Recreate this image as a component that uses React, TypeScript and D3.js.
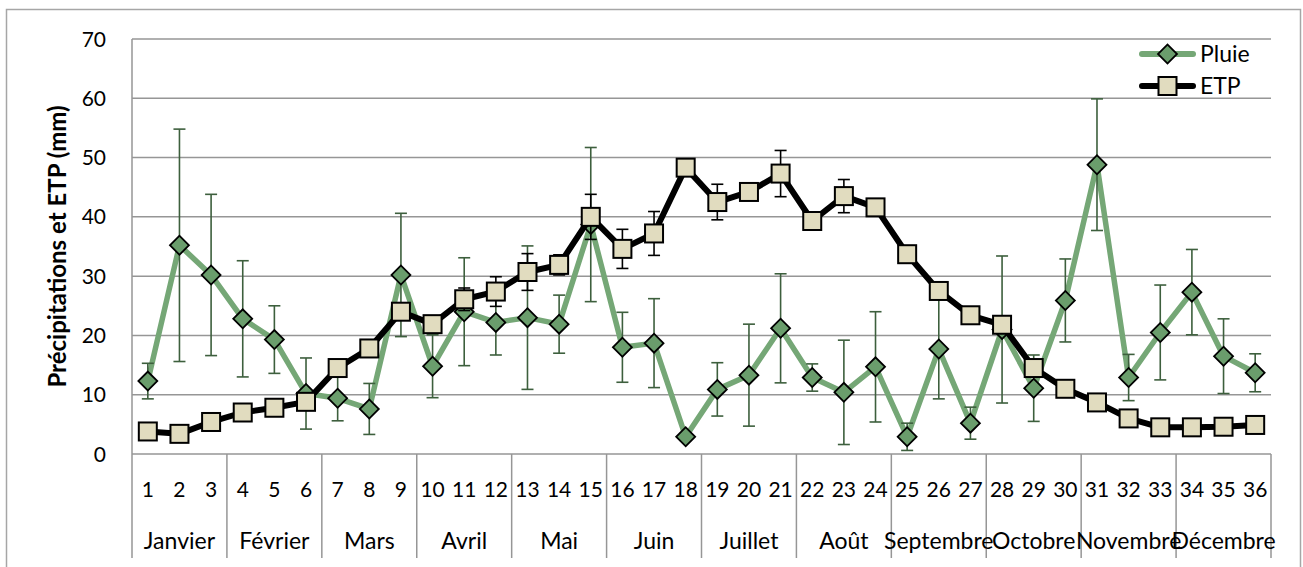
import React, { useEffect, useRef } from "react"
import * as d3 from "d3"

const WIDTH = 1303
const HEIGHT = 567
const MARGIN = { top: 39, right: 32, bottom: 113, left: 132 }

const weeks = d3.range(1, 37)
const months = [
    "Janvier",
    "Février",
    "Mars",
    "Avril",
    "Mai",
    "Juin",
    "Juillet",
    "Août",
    "Septembre",
    "Octobre",
    "Novembre",
    "Décembre",
]

const pluie = [
    12.3, 35.2, 30.2, 22.8, 19.3, 10.2, 9.4, 7.6, 30.2, 14.8, 24.0, 22.2,
    23.0, 21.9, 38.7, 18.0, 18.7, 2.9, 10.9, 13.3, 21.2, 12.9, 10.4, 14.7,
    2.9, 17.7, 5.2, 21.0, 11.1, 25.9, 48.8, 12.9, 20.5, 27.3, 16.5, 13.7,
]
const pluieErr = [
    3.0, 19.6, 13.6, 9.8, 5.7, 6.0, 3.8, 4.3, 10.4, 5.3, 9.1, 5.5,
    12.1, 4.9, 13.0, 5.9, 7.5, 0.6, 4.5, 8.6, 9.2, 2.3, 8.8, 9.3,
    2.3, 8.4, 2.7, 12.4, 5.6, 7.0, 11.1, 3.9, 8.0, 7.2, 6.3, 3.2,
]
const etp = [
    3.8, 3.4, 5.4, 7.0, 7.8, 8.8, 14.5, 17.8, 24.0, 21.9, 26.1, 27.4,
    30.7, 31.9, 40.0, 34.6, 37.2, 48.3, 42.5, 44.2, 47.3, 39.3, 43.5, 41.6,
    33.7, 27.5, 23.4, 21.8, 14.5, 11.0, 8.7, 6.0, 4.5, 4.5, 4.6, 4.9,
]
const etpErr = [
    0, 0, 0, 0, 0, 0, 0, 0, 0, 0, 1.9, 2.5,
    3.1, 1.7, 3.8, 3.3, 3.7, 0, 3.0, 0, 3.9, 0, 2.8, 0,
    0, 0, 0, 0, 0, 0, 0, 0, 0, 0, 0, 0,
]
const yTicks = [0, 10, 20, 30, 40, 50, 60, 70]

const FONT = "Lato, 'Open Sans', sans-serif"
const GRID = "#969696"
const GREEN_LINE = "#75a776"
const GREEN_MARK = "#6a9d6c"
const GREEN_ERR = "#3d5f3d"
const BEIGE = "#e1dcbf"

const diamond = (g: any, x: number, y: number) =>
    g
        .append("rect")
        .attr("x", -6.7)
        .attr("y", -6.7)
        .attr("width", 13.4)
        .attr("height", 13.4)
        .attr("transform", `translate(${x},${y}) rotate(45)`)
        .attr("fill", GREEN_MARK)
        .attr("stroke", "#000")
        .attr("stroke-width", 1.8)

const square = (g: any, x: number, y: number) =>
    g
        .append("rect")
        .attr("x", x - 9)
        .attr("y", y - 9)
        .attr("width", 18)
        .attr("height", 18)
        .attr("fill", BEIGE)
        .attr("stroke", "#000")
        .attr("stroke-width", 2)

const ChartPluieEtp: React.FC = () => {
    const svgRef = useRef<SVGSVGElement | null>(null)

    useEffect(() => {
        if (!svgRef.current) return
        const svg = d3.select(svgRef.current)
        svg.selectAll("*").remove()

        const x0 = MARGIN.left
        const x1 = WIDTH - MARGIN.right
        const y0 = HEIGHT - MARGIN.bottom

        const xScale = d3
            .scaleBand<number>()
            .domain(weeks)
            .range([x0, x1])
        const yScale = d3
            .scaleLinear()
            .domain([0, 70])
            .range([y0, MARGIN.top])
        const cx = (d: number) => xScale(d)! + xScale.bandwidth() / 2

        // cadre
        svg.append("rect")
            .attr("x", 6.5)
            .attr("y", 9.5)
            .attr("width", 1294)
            .attr("height", 620)
            .attr("fill", "#fff")
            .attr("stroke", "#a6a6a6")
            .attr("stroke-width", 1.5)

        // grille
        svg.append("g")
            .selectAll("line")
            .data(yTicks)
            .enter()
            .append("line")
            .attr("x1", x0)
            .attr("x2", x1)
            .attr("y1", d => yScale(d))
            .attr("y2", d => yScale(d))
            .attr("stroke", GRID)
            .attr("stroke-width", 1.5)

        svg.append("line")
            .attr("x1", x0)
            .attr("x2", x0)
            .attr("y1", MARGIN.top)
            .attr("y2", y0)
            .attr("stroke", GRID)
            .attr("stroke-width", 1.5)

        // axe vertical : étiquettes
        svg.append("g")
            .selectAll("text")
            .data(yTicks)
            .enter()
            .append("text")
            .attr("x", 106)
            .attr("y", d => yScale(d) + 7.5)
            .attr("text-anchor", "end")
            .style("font-family", FONT)
            .style("font-size", "21px")
            .attr("fill", "#000")
            .text(d => d)

        svg.append("text")
            .attr("transform", `translate(66, ${(MARGIN.top + y0) / 2}) rotate(-90)`)
            .attr("text-anchor", "middle")
            .style("font-family", FONT)
            .style("font-size", "24px")
            .style("font-weight", "bold")
            .text("Précipitations et ETP (mm)")

        // axe horizontal à deux niveaux
        const sepBottom = 558
        svg.append("g")
            .selectAll("line")
            .data(d3.range(0, 13))
            .enter()
            .append("line")
            .attr("x1", k => x0 + k * 3 * xScale.bandwidth())
            .attr("x2", k => x0 + k * 3 * xScale.bandwidth())
            .attr("y1", y0)
            .attr("y2", sepBottom)
            .attr("stroke", GRID)
            .attr("stroke-width", 1.5)

        svg.append("g")
            .selectAll("text")
            .data(weeks)
            .enter()
            .append("text")
            .attr("x", d => cx(d))
            .attr("y", 497)
            .attr("text-anchor", "middle")
            .style("font-family", FONT)
            .style("font-size", "21px")
            .text(d => d)

        svg.append("g")
            .selectAll("text")
            .data(months)
            .enter()
            .append("text")
            .attr("x", (_, i) => x0 + (i * 3 + 1.5) * xScale.bandwidth())
            .attr("y", 549)
            .attr("text-anchor", "middle")
            .style("font-family", FONT)
            .style("font-size", "23px")
            .text(d => d)

        const errorBars = (
            vals: number[],
            errs: number[],
            color: string
        ) => {
            const g = svg.append("g")
                .attr("stroke", color)
                .attr("stroke-width", 1.6)
            vals.forEach((v, i) => {
                const e = errs[i]
                if (!e) return
                const x = cx(weeks[i])
                const top = yScale(v + e)
                const bot = yScale(Math.max(v - e, 0))
                g.append("line").attr("x1", x).attr("x2", x).attr("y1", top).attr("y2", bot)
                g.append("line").attr("x1", x - 6).attr("x2", x + 6).attr("y1", top).attr("y2", top)
                g.append("line").attr("x1", x - 6).attr("x2", x + 6).attr("y1", bot).attr("y2", bot)
            })
        }

        const line = d3
            .line<number>()
            .x((_, i) => cx(weeks[i]))
            .y(d => yScale(d))

        // Pluie
        svg.append("path")
            .attr("d", line(pluie)!)
            .attr("fill", "none")
            .attr("stroke", GREEN_LINE)
            .attr("stroke-width", 5.5)
            .attr("stroke-linejoin", "round")
        errorBars(pluie, pluieErr, GREEN_ERR)
        const gp = svg.append("g")
        pluie.forEach((v, i) => diamond(gp, cx(weeks[i]), yScale(v)))

        // ETP
        svg.append("path")
            .attr("d", line(etp)!)
            .attr("fill", "none")
            .attr("stroke", "#000")
            .attr("stroke-width", 6)
            .attr("stroke-linejoin", "round")
        errorBars(etp, etpErr, "#000")
        const ge = svg.append("g")
        etp.forEach((v, i) => square(ge, cx(weeks[i]), yScale(v)))

        // légende
        const legend = svg.append("g")
        const items = [
            { label: "Pluie", color: GREEN_LINE, mark: diamond, y: 54 },
            { label: "ETP", color: "#000", mark: square, y: 86 },
        ]
        items.forEach(it => {
            legend.append("line")
                .attr("x1", 1142)
                .attr("x2", 1193)
                .attr("y1", it.y)
                .attr("y2", it.y)
                .attr("stroke", it.color)
                .attr("stroke-width", 6)
                .attr("stroke-linecap", "round")
            it.mark(legend, 1167.5, it.y)
            legend.append("text")
                .attr("x", 1200)
                .attr("y", it.y + 8)
                .style("font-family", FONT)
                .style("font-size", "23px")
                .text(it.label)
        })
    }, [])

    return (
        <svg
            ref={svgRef}
            width={WIDTH}
            height={HEIGHT}
            style={{ position: "absolute", left: 0, top: 0 }}
        />
    )
}

export default function App() {
    return <ChartPluieEtp />
}
